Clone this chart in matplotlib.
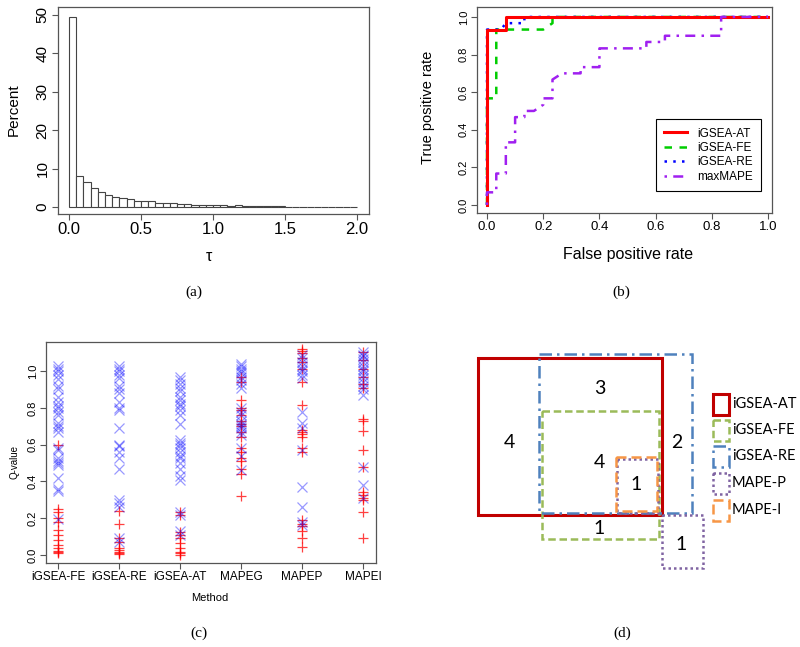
import matplotlib
matplotlib.use("Agg")
import matplotlib.pyplot as plt
from matplotlib.patches import Rectangle
import numpy as np

# ---- (a) histogram of tau, bins of 0.05 from 0 to 2 ----
tau_edges = np.arange(0, 2.0, 0.05)
tau_percent = [49.6, 8.1, 6.4, 4.9, 3.9, 3.1, 2.7, 2.4, 2.1, 1.6,
               1.5, 1.5, 1.1, 1.1, 1.0, 0.8, 0.8, 0.6, 0.6, 0.5,
               0.6, 0.5, 0.3, 0.5, 0.2, 0.2, 0.2, 0.2, 0.2, 0.2,
               0.1, 0.1, 0.1, 0.1, 0.0, 0.1, 0.0, 0.0, 0.0, 0.0]

# ---- (b) ROC curves ----
at_fpr = [0, 0, 0.067, 0.067, 1]
at_tpr = [0, 0.933, 0.933, 1, 1]
fe_fpr = [0, 0, 0.033, 0.033, 0.2, 0.233, 0.233, 1]
fe_tpr = [0, 0.567, 0.567, 0.933, 0.933, 0.967, 1, 1]
re_fpr = [0, 0, 0.05, 0.067, 0.133, 0.133, 1]
re_tpr = [0, 0.933, 0.933, 0.967, 0.967, 1, 1]
mx_fpr = [0, 0, 0.033, 0.033, 0.067, 0.067, 0.1, 0.1, 0.133, 0.133, 0.167,
          0.2, 0.2, 0.233, 0.233, 0.267, 0.333, 0.333, 0.4, 0.4, 0.567,
          0.567, 0.633, 0.633, 0.833, 0.833, 1]
mx_tpr = [0, 0.067, 0.067, 0.167, 0.167, 0.333, 0.333, 0.467, 0.467, 0.5, 0.5,
          0.533, 0.567, 0.567, 0.667, 0.7, 0.7, 0.733, 0.733, 0.833, 0.833,
          0.867, 0.867, 0.9, 0.9, 1, 1]
roc_labels = ["iGSEA-AT", "iGSEA-FE", "iGSEA-RE", "maxMAPE"]

# ---- (c) Q-values per method ----
methods = ["iGSEA-FE", "iGSEA-RE", "iGSEA-AT", "MAPEG", "MAPEP", "MAPEI"]
q_blue = [
    [1.03, 1.01, 1.0, 0.98, 0.955, 0.92, 0.9, 0.86, 0.83, 0.81, 0.80, 0.78, 0.76,
     0.72, 0.70, 0.69, 0.67, 0.58, 0.57, 0.53, 0.51, 0.50, 0.49, 0.42, 0.36, 0.35, 0.195],
    [1.03, 1.01, 1.0, 0.98, 0.96, 0.92, 0.9, 0.88, 0.83, 0.80, 0.79, 0.69, 0.60,
     0.59, 0.56, 0.53, 0.47, 0.30, 0.28, 0.26, 0.09, 0.07],
    [0.97, 0.95, 0.93, 0.91, 0.89, 0.86, 0.84, 0.82, 0.81, 0.79, 0.76, 0.71, 0.625,
     0.61, 0.6, 0.58, 0.56, 0.54, 0.53, 0.50, 0.47, 0.43, 0.41, 0.235, 0.22, 0.13, 0.11],
    [1.04, 1.03, 1.01, 1.0, 0.99, 0.97, 0.95, 0.93, 0.91, 0.80, 0.78, 0.76, 0.73,
     0.71, 0.70, 0.69, 0.67, 0.65, 0.58, 0.54, 0.46],
    [1.09, 1.07, 1.05, 1.03, 1.01, 1.0, 0.98, 0.96, 0.78, 0.72, 0.69, 0.57, 0.37,
     0.26, 0.18, 0.163],
    [1.105, 1.09, 1.08, 1.065, 1.05, 1.03, 1.01, 1.0, 0.98, 0.96, 0.94, 0.92, 0.90,
     0.87, 0.48, 0.38, 0.31],
]
q_red = [
    [0.60, 0.25, 0.235, 0.2, 0.18, 0.135, 0.11, 0.08, 0.055, 0.04, 0.02, 0.015, 0.01],
    [0.24, 0.167, 0.094, 0.07, 0.036, 0.027, 0.018, 0.009, 0.004],
    [0.235, 0.22, 0.127, 0.11, 0.09, 0.063, 0.036, 0.018, 0.009, 0.0],
    [0.97, 0.94, 0.84, 0.80, 0.79, 0.76, 0.73, 0.71, 0.70, 0.67, 0.64, 0.58, 0.56,
     0.53, 0.51, 0.47, 0.44, 0.32],
    [1.12, 1.11, 1.10, 1.07, 1.05, 1.01, 0.94, 0.815, 0.68, 0.67, 0.66, 0.64, 0.58,
     0.56, 0.19, 0.17, 0.155, 0.13, 0.09, 0.045],
    [1.105, 1.06, 1.01, 0.97, 0.93, 0.91, 0.74, 0.73, 0.675, 0.57, 0.48, 0.345,
     0.326, 0.31, 0.3, 0.235, 0.09],
]

# ---- (d) overlap diagram: sets and region counts ----
set_names = ["iGSEA-AT", "iGSEA-FE", "iGSEA-RE", "MAPE-P", "MAPE-I"]
set_colors = ["#C00000", "#9BBB59", "#4F81BD", "#8064A2", "#F79646"]
set_styles = ["solid", (0, (3, 1.5)), (0, (5, 2, 1, 2)), (0, (1, 1.2)), (0, (4, 2))]
set_rects = [  # (x0, y0, x1, y1) in the panel's own units
    [(478, 358, 662, 515)],
    [(542, 411, 659, 539)],
    [(539, 354, 692, 513)],
    [(617, 459, 658, 513), (662, 515, 703, 568)],
    [(616, 457, 657, 511)],
]
region_counts = ["3", "4", "4", "1", "2", "1", "1"]
region_xy = [(600, 389), (509, 442), (599, 462), (636, 485), (677, 442),
             (599, 528), (681, 545)]

W, H = 800, 647
SANS = "Liberation Sans"
SERIF = "Liberation Serif"
FRAME = "#555555"


def box(x0, y0, x1, y1):
    return [x0 / W, 1 - y1 / H, (x1 - x0) / W, (y1 - y0) / H]


def ftext(x, y, s, **kw):
    fig.text(x / W, 1 - y / H, s, ha="center", va="center", **kw)


def r_style(ax, xsize, ysize):
    for sp in ax.spines.values():
        sp.set_color(FRAME)
        sp.set_linewidth(0.9)
    ax.tick_params(direction="out", length=4, width=0.8, color=FRAME, pad=2)
    ax.tick_params(axis="x", labelsize=xsize)
    ax.tick_params(axis="y", labelsize=ysize)
    for lab in ax.get_xticklabels() + ax.get_yticklabels():
        lab.set_fontfamily(SANS)
    plt.setp(ax.get_yticklabels(), rotation=90, va="center")


fig = plt.figure(figsize=(8, 6.47), dpi=100)

# (a)
ax = fig.add_axes(box(58, 7, 369, 214))
ax.bar(tau_edges, tau_percent, width=0.05, align="edge", color="white",
       edgecolor="#444444", linewidth=0.8)
ax.set_xlim(-0.076, 2.083)
ax.set_ylim(-1.82, 52.08)
ax.set_xticks([0, 0.5, 1.0, 1.5, 2.0])
ax.set_xticklabels(["0.0", "0.5", "1.0", "1.5", "2.0"])
ax.set_yticks([0, 10, 20, 30, 40, 50])
r_style(ax, 12, 11)
ftext(14, 110, "Percent", rotation=90, fontsize=11, family=SANS)
ftext(209, 256, "τ", fontsize=11.5, family=SANS)
ftext(194, 292, "(a)", fontsize=11, family=SERIF)

# (b)
ax = fig.add_axes(box(477, 7, 772, 213))
ax.plot(at_fpr, at_tpr, color="#FF0000", lw=2.2, label=roc_labels[0], zorder=4)
ax.plot(fe_fpr, fe_tpr, color="#00CD00", lw=1.8, dashes=(3, 3), label=roc_labels[1])
ax.plot(re_fpr, re_tpr, color="#0000FF", lw=1.8, dashes=(1, 2.5), label=roc_labels[2])
ax.plot(mx_fpr, mx_tpr, color="#A020F0", lw=1.8, dashes=(1, 2.5, 4, 2.5),
        label=roc_labels[3], zorder=4.5)
ax.set_xlim(-0.0356, 1.014)
ax.set_ylim(-0.043, 1.053)
ax.set_xticks(np.arange(0, 1.01, 0.2))
ax.set_xticklabels(["0.0", "0.2", "0.4", "0.6", "0.8", "1.0"])
ax.set_yticks(np.arange(0, 1.01, 0.2))
ax.set_yticklabels(["0.0", "0.2", "0.4", "0.6", "0.8", "1.0"])
r_style(ax, 9.5, 8)
leg = ax.legend(loc="lower left", bbox_to_anchor=(0.607, 0.107), borderaxespad=0,
                fancybox=False, edgecolor="black", framealpha=1, handlelength=1.9,
                labelspacing=0.2, borderpad=0.7, handletextpad=0.9,
                prop={"family": SANS, "size": 8.5})
leg.get_frame().set_linewidth(0.8)
leg.set_zorder(5)
ftext(428, 107, "True positive rate", rotation=90, fontsize=10.5, family=SANS)
ftext(628, 255, "False positive rate", fontsize=11.5, family=SANS)
ftext(621, 292, "(b)", fontsize=11, family=SERIF)

# (c)
ax = fig.add_axes(box(46, 342, 376, 563))
for i in range(len(methods)):
    ax.plot([i + 1] * len(q_red[i]), q_red[i], "+", color="#FF0000", alpha=0.75,
            ms=7.5, mew=0.9)
for i in range(len(methods)):
    ax.plot([i + 1] * len(q_blue[i]), q_blue[i], "x", color="#0000FF", alpha=0.4,
            ms=6.5, mew=0.9)
ax.set_xlim(0.803, 6.213)
ax.set_ylim(-0.0435, 1.158)
ax.set_xticks(range(1, 7))
ax.set_xticklabels(methods)
ax.set_yticks(np.arange(0, 1.01, 0.2))
ax.set_yticklabels(["0.0", "0.2", "0.4", "0.6", "0.8", "1.0"])
r_style(ax, 8.5, 8)
ftext(14, 462, "Q-value", rotation=90, fontsize=7, family=SANS)
ftext(210, 598, "Method", fontsize=8, family=SANS)
ftext(199, 633, "(c)", fontsize=11, family=SERIF)

# (d)
ax = fig.add_axes([0.5, 0, 0.5, 327 / H])
ax.set_xlim(400, 800)
ax.set_ylim(647, 320)
ax.axis("off")
for name, col, ls, rects in zip(set_names, set_colors, set_styles, set_rects):
    for x0, y0, x1, y1 in rects:
        ax.add_patch(Rectangle((x0, y0), x1 - x0, y1 - y0, fill=False,
                               edgecolor=col, linestyle=ls,
                               lw=2.2 if ls == "solid" else 1.8))
for s, (x, y) in zip(region_counts, region_xy):
    ax.text(x, y, s, ha="center", va="center", fontsize=14, family="Lato")
leg_y = [404, 430, 456, 483, 510]
for name, col, ls, y in zip(set_names, set_colors, set_styles, leg_y):
    ax.add_patch(Rectangle((713, y - 10), 16, 21, fill=False, edgecolor=col,
                           linestyle=ls, lw=2.2 if ls == "solid" else 1.8))
    ax.text(732, y, name, ha="left", va="center", fontsize=10.5, family="Lato")
ftext(622, 633, "(d)", fontsize=11, family=SERIF)

fig.savefig("out.png", dpi=100)
